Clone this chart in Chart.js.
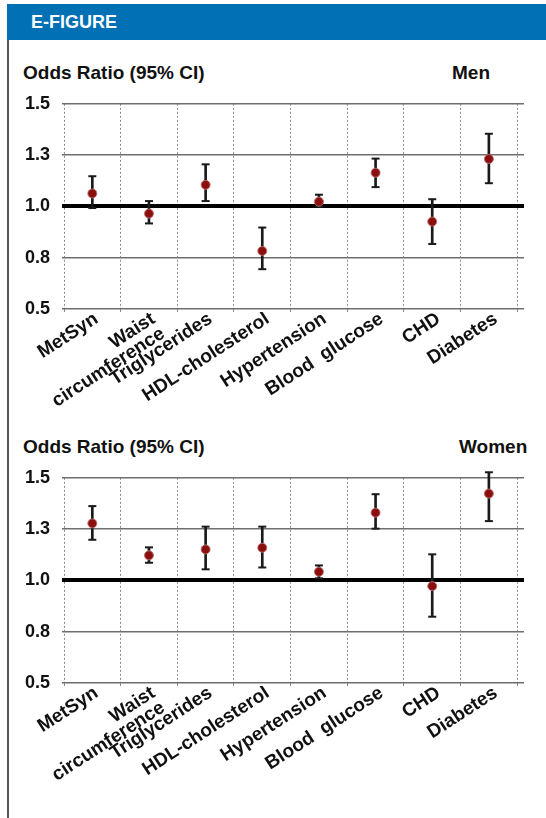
<!DOCTYPE html>
<html>
<head>
<meta charset="utf-8">
<script src="https://cdn.jsdelivr.net/npm/chart.js@4"></script>
<style>
  html,body{margin:0;padding:0;background:#fff;}
  body{width:546px;height:818px;position:relative;overflow:hidden;font-family:"Liberation Sans",Arial,sans-serif;}
  #hdr{position:absolute;left:7px;top:4px;width:539px;height:36px;background:#0170b4;}
  #hdr span{position:absolute;left:24px;top:8px;color:#fff;font-weight:bold;font-size:18px;}
  #lborder{position:absolute;left:7px;top:40px;width:2px;height:778px;background:#555;}
  .ttl{position:absolute;font-weight:bold;font-size:19px;color:#111;line-height:19px;}
  .box{position:absolute;left:0px;width:530px;height:341px;}
</style>
</head>
<body>
<div id="hdr"><span>E-FIGURE</span></div>
<div id="lborder"></div>
<div class="ttl" style="left:23px;top:63px;">Odds Ratio (95% CI)</div>
<div class="ttl" style="left:452px;top:63px;">Men</div>
<div class="ttl" style="left:23px;top:437px;">Odds Ratio (95% CI)</div>
<div class="ttl" style="left:459px;top:437px;">Women</div>
<div class="box" style="top:81px;"><canvas id="men"></canvas></div>
<div class="box" style="top:455px;"><canvas id="women"></canvas></div>
<script>
const categories = ["MetSyn", ["Waist", "circumference"], "Triglycerides", "HDL-cholesterol", "Hypertension", "Blood  glucose", "CHD", "Diabetes"];
const tickLabels = ["0.5", "0.8", "1.0", "1.3", "1.5"];

const menOR    = [1.063, 0.965, 1.105, 0.783, 1.023, 1.164, 0.926, 1.231];
const menLow   = [0.992, 0.917, 1.026, 0.694, 0.998, 1.094, 0.817, 1.113];
const menHigh  = [1.147, 1.026, 1.205, 0.897, 1.057, 1.233, 1.035, 1.354];

const womenOR   = [1.278, 1.122, 1.151, 1.159, 1.042, 1.330, 0.972, 1.423];
const womenLow  = [1.198, 1.086, 1.054, 1.063, 1.010, 1.252, 0.823, 1.289];
const womenHigh = [1.362, 1.161, 1.262, 1.262, 1.073, 1.420, 1.127, 1.527];

const FONT = '"Liberation Sans", Arial, sans-serif';

function makeChart(id, or, low, high) {
  const pts = arr => arr.map((v, i) => ({ x: i, y: v }));
  const ranges = low.map((l, i) => ({ x: i, y: [l, high[i]] }));
  new Chart(document.getElementById(id), {
    type: 'bar',
    data: {
      datasets: [
        { type: 'line', data: pts(or), showLine: false, order: 0, xAxisID: 'x',
          pointRadius: 4.5, pointBackgroundColor: '#8a1010', pointBorderColor: 'rgba(190,110,110,0.9)', pointBorderWidth: 1, clip: false },
        { type: 'line', data: pts(high), showLine: false, order: 1, pointStyle: 'line', xAxisID: 'x',
          pointRadius: 4, pointBorderWidth: 2, pointBorderColor: '#1a1a1a', clip: false },
        { type: 'line', data: pts(low), showLine: false, order: 1, pointStyle: 'line', xAxisID: 'x',
          pointRadius: 4, pointBorderWidth: 2, pointBorderColor: '#1a1a1a', clip: false },
        { type: 'bar', data: ranges, order: 2, barThickness: 2, backgroundColor: '#1a1a1a', borderWidth: 0, clip: false, xAxisID: 'x' }
      ]
    },
    options: {
      responsive: true, maintainAspectRatio: false, animation: false,
      events: [],
      layout: { padding: { top: 0, right: 4, left: 0, bottom: 0 } },
      plugins: { legend: { display: false }, tooltip: { enabled: false } },
      scales: {
        x: {
          type: 'linear', position: 'bottom', offset: false,
          min: -0.5, max: 7.62,
          afterBuildTicks: a => { a.ticks = categories.map((c, i) => ({ value: i - 0.5 })).concat([{ value: 7.5 }]); },
          grid: { offset: false, color: '#8a8a8a', lineWidth: 1, tickLength: 3 },
          border: { display: false, dash: [2, 2] },
          ticks: { display: false },
          afterFit: s => { s.height = 3; }
        },
        xl: {
          type: 'linear', position: 'bottom', offset: false,
          min: -0.567, max: 7.496,
          afterBuildTicks: a => { a.ticks = categories.map((c, i) => ({ value: i })); },
          grid: { display: false, drawTicks: false, offset: false },
          border: { display: false },
          ticks: { minRotation: 33, maxRotation: 33, autoSkip: false, padding: -2, color: '#111',
                   font: { family: FONT, weight: 'bold', size: 19, lineHeight: 0.92 },
                   callback: v => categories[v] },
          afterFit: s => { s.height = 110; }
        },
        y: {
          min: 0.5, max: 1.5,
          grid: {
            color: c => (c.tick && Math.abs(c.tick.value - 1) < 1e-9) ? '#000' : '#6e6e6e',
            lineWidth: c => (c.tick && Math.abs(c.tick.value - 1) < 1e-9) ? 4 : 1.5,
            tickLength: 2
          },
          border: { display: false },
          ticks: { stepSize: 0.25, padding: 12, color: '#111',
                   font: { family: FONT, weight: 'bold', size: 18 },
                   callback: (v, i) => tickLabels[i] },
          afterFit: s => { s.width = 64; }
        }
      }
    }
  });
}
makeChart('men', menOR, menLow, menHigh);
makeChart('women', womenOR, womenLow, womenHigh);
</script>
</body>
</html>
